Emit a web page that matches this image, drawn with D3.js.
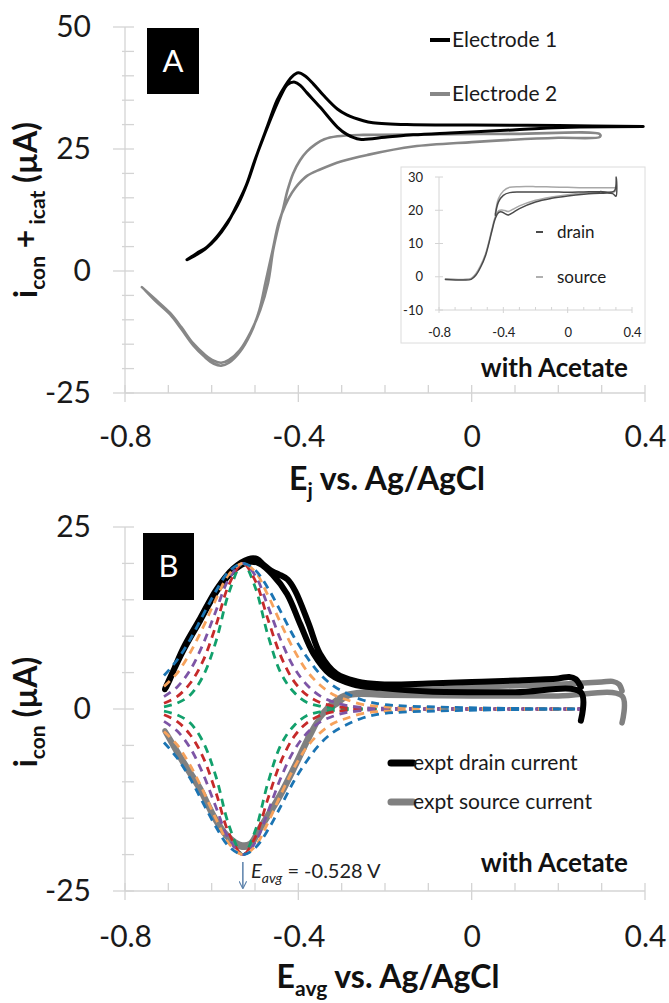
<!DOCTYPE html>
<html>
<head>
<meta charset="utf-8">
<script src="https://cdn.jsdelivr.net/npm/d3@7"></script>
<style>
body { margin: 0; background: #fff; }
svg { display: block; }
</style>
</head>
<body>
<div id="chart"></div>
<script>
// ---- panel A, electrode traces (E in V, i in uA)
const elec1E = [-0.657, -0.635, -0.611, -0.588, -0.565, -0.54, -0.518, -0.495, -0.47, -0.449, -0.43, -0.415, -0.40, -0.385, -0.365, -0.342, -0.31, -0.288, -0.25, -0.228, -0.15, 0.0, 0.2, 0.396,
    0.396, 0.25, 0.174, 0.095, -0.05, -0.135, -0.2, -0.258, -0.288, -0.31, -0.35, -0.38, -0.395, -0.408, -0.425, -0.44, -0.46, -0.48, -0.50, -0.52, -0.545, -0.565, -0.59, -0.615, -0.64, -0.655]
const elec1I = [2.3, 3.6, 4.9, 7.0, 9.8, 13.5, 18.0, 24.0, 30.0, 35.0, 38.0, 39.8, 40.6, 40.0, 38.3, 36.0, 33.2, 32.0, 30.8, 30.4, 30.0, 29.9, 29.8, 29.6,
    29.6, 29.5, 29.3, 28.9, 28.3, 27.9, 27.4, 27.0, 28.0, 29.5, 33.6, 36.5, 38.0, 38.7, 38.2, 36.0, 32.0, 27.5, 22.8, 17.6, 12.9, 9.6, 6.6, 4.5, 3.1, 2.4]
const elec2E = [-0.761, -0.73, -0.696, -0.67, -0.643, -0.615, -0.595, -0.578, -0.56, -0.535, -0.51, -0.488, -0.47, -0.458, -0.445, -0.435, -0.425, -0.412, -0.396, -0.38, -0.36, -0.34, -0.31, -0.25, -0.1, 0.1, 0.296,
    0.296, 0.2, 0.095, 0.0, -0.135, -0.24, -0.3, -0.35, -0.38, -0.40, -0.415, -0.43, -0.445, -0.46, -0.475, -0.49, -0.51, -0.535, -0.56, -0.578, -0.595, -0.615, -0.643, -0.67, -0.696, -0.73, -0.755]
const elec2I = [-3.3, -5.8, -8.6, -11.5, -14.8, -17.2, -18.4, -18.8, -18.2, -16.2, -12.5, -8.0, -2.5, 4.3, 9.5, 12.8, 16.5, 20.0, 22.7, 24.5, 26.0, 27.0, 27.6, 27.9, 28.0, 28.1, 28.0,
    27.5, 27.3, 26.9, 26.4, 25.5, 23.8, 22.5, 20.8, 19.5, 17.8, 16.0, 13.5, 10.0, 4.0, -2.0, -8.0, -12.8, -16.6, -18.8, -19.4, -19.0, -17.7, -15.2, -11.9, -8.9, -6.1, -3.8]

// ---- inset of panel A
const insetDrainE = [-0.76, -0.65, -0.6, -0.57, -0.54, -0.51, -0.49, -0.47, -0.45, -0.43, -0.41, -0.39, -0.37, -0.34, -0.3, -0.2, -0.1, 0.0, 0.1, 0.2, 0.28, 0.3, 0.302,
    0.29, 0.2, 0.1, 0.0, -0.1, -0.2, -0.3, -0.36, -0.4, -0.43, -0.45]
const insetDrainI = [-0.8, -1.0, -0.8, 0.5, 3.0, 6.5, 10.0, 14.0, 17.5, 19.3, 19.5, 19.0, 18.6, 19.3, 20.5, 22.5, 23.6, 24.3, 24.8, 25.1, 25.0, 24.2, 30.0,
    25.8, 25.6, 25.5, 25.4, 25.5, 25.5, 25.5, 25.3, 24.5, 22.5, 18.5]
const insetSourceE = [-0.76, -0.65, -0.6, -0.57, -0.54, -0.51, -0.49, -0.47, -0.45, -0.43, -0.41, -0.39, -0.37, -0.34, -0.3, -0.2, -0.1, 0.0, 0.1, 0.2, 0.29, 0.3,
    0.29, 0.2, 0.1, 0.0, -0.1, -0.2, -0.3, -0.36, -0.4, -0.43, -0.45]
const insetSourceI = [-0.6, -0.8, -0.5, 1.0, 3.5, 7.0, 10.5, 14.5, 18.0, 19.8, 20.1, 19.9, 19.6, 20.3, 21.3, 23.0, 24.0, 24.7, 25.2, 25.5, 25.5, 26.8,
    26.8, 26.8, 26.8, 26.9, 27.0, 27.1, 27.1, 26.9, 25.8, 23.5, 19.0]

// ---- panel B, experimental currents
const drainE = [0.252, 0.252, 0.1, -0.1, -0.211, -0.274, -0.327, -0.365, -0.396, -0.426, -0.46, -0.49, -0.515, -0.55, -0.588, -0.627, -0.666, -0.708,
    -0.70, -0.666, -0.627, -0.588, -0.55, -0.515, -0.495, -0.48, -0.46, -0.445, -0.425, -0.407, -0.376, -0.35, -0.311, -0.265, -0.211, -0.1, 0.0, 0.1, 0.2, 0.225, 0.24, 0.252]
const drainI = [-1.6, 2.3, 2.3, 2.4, 2.9, 3.4, 4.8, 7.6, 11.7, 15.8, 18.5, 20.0, 20.2, 19.0, 16.2, 12.1, 8.0, 2.7,
    3.6, 8.3, 12.4, 16.5, 19.3, 20.6, 20.6, 19.8, 18.9, 18.5, 17.8, 16.2, 11.7, 7.6, 4.8, 3.8, 3.4, 3.5, 3.7, 3.9, 4.2, 4.4, 4.1, 3.0]
const sourceE = [0.347, 0.347, 0.2, 0.0, -0.2, -0.28, -0.311, -0.343, -0.373, -0.403, -0.442, -0.489, -0.512, -0.535, -0.566, -0.597, -0.627, -0.666, -0.708,
    -0.666, -0.627, -0.597, -0.566, -0.535, -0.512, -0.489, -0.442, -0.403, -0.373, -0.343, -0.311, -0.288, -0.211, -0.1, 0.0, 0.1, 0.2, 0.3, 0.325, 0.34, 0.347]
const sourceI = [-1.9, 1.8, 1.8, 1.8, 1.9, 1.9, 0.7, -0.7, -3.4, -7.1, -11.7, -16.3, -18.5, -18.6, -17.2, -14.4, -10.8, -7.1, -3.0,
    -7.4, -11.1, -14.7, -17.5, -18.9, -18.8, -16.6, -12.0, -7.4, -3.7, -0.5, 1.3, 2.0, 2.5, 2.7, 3.0, 3.2, 3.4, 3.7, 3.8, 3.4, 2.5]

// ---- panel B, simulated curves (magnitude; drawn as +/- branches)
const simE = [-0.71, -0.68, -0.65, -0.62, -0.59, -0.56, -0.528, -0.50, -0.47, -0.44, -0.41, -0.38, -0.35, -0.32, -0.29, -0.25, -0.20, 0.25]
const simGreen = [0.3, 0.8, 1.9, 4.5, 9.3, 16.0, 20, 16.8, 10.1, 4.9, 2.3, 0.9, 0.4, 0.2, 0.1, 0, 0, 0]
const simRed = [0.8, 1.7, 3.5, 6.6, 11.5, 17.1, 20, 17.7, 12.3, 7.2, 3.8, 1.9, 0.9, 0.4, 0.2, 0.1, 0, 0]
const simPurple = [1.7, 3.0, 5.3, 8.9, 13.5, 17.9, 20, 18.4, 14.1, 9.4, 5.7, 3.3, 1.8, 1.0, 0.5, 0.2, 0.1, 0]
const simOrange = [3.1, 4.9, 7.7, 11.2, 15.1, 18.5, 20, 18.9, 15.6, 11.7, 8.1, 5.2, 3.3, 2.0, 1.3, 0.6, 0.3, 0]
const simBlue = [4.6, 6.7, 9.5, 12.9, 16.2, 18.9, 20, 19.1, 16.6, 13.3, 9.9, 7.1, 4.8, 3.2, 2.2, 1.2, 0.6, 0]

// ---- ticks
const xTickVals = [-0.8, -0.4, 0, 0.4]
const yTicksA = [50, 25, 0, -25]
const yTicksB = [25, 0, -25]
const insetXTicks = [-0.8, -0.4, 0, 0.4]
const insetYTicks = [30, 20, 10, 0, -10]

const font = 'Lato, "Open Sans", sans-serif'
const axisColor = '#d4d4d4'

var svg = d3.select('#chart').append('svg')
    .attr('width', 669).attr('height', 1003)
    .style('font-family', font)

var curve = d3.curveCatmullRom.alpha(0.5)

function drawTrace(g, xs, ys, x, y, color, width, dash) {
    var line = d3.line().curve(curve).x(d => x(d[0])).y(d => y(d[1]))
    var p = g.append('path')
        .attr('d', line(d3.zip(xs, ys)))
        .attr('fill', 'none')
        .attr('stroke', color)
        .attr('stroke-width', width)
        .attr('stroke-linejoin', 'round')
        .attr('stroke-linecap', dash ? 'butt' : 'round')
    if (dash) p.attr('stroke-dasharray', dash)
    return p
}

function drawFrame(x, y, yTicks, xPad, yPad) {
    var x0 = x.range()[0], x1 = x.range()[1]
    var yb = y(y.domain()[0]), yt = y(y.domain()[1])
    var ax = svg.append('g').attr('stroke', axisColor).attr('stroke-width', 1.3)
    ax.append('line').attr('x1', x0).attr('x2', x0).attr('y1', yt).attr('y2', yb)
    ax.append('line').attr('x1', x0).attr('x2', x1).attr('y1', yb).attr('y2', yb)
    d3.range(y.domain()[0], y.domain()[1] + 1, 5).forEach(v => {
        var major = yTicks.indexOf(v) >= 0
        ax.append('line').attr('x1', major ? x0 - 12 : x0 - 3).attr('x2', x0 + 9)
            .attr('y1', y(v)).attr('y2', y(v))
    })
    d3.range(0, 13).forEach(k => {
        var v = -0.8 + k * 0.1
        var major = k % 4 == 0
        ax.append('line').attr('x1', x(v)).attr('x2', x(v))
            .attr('y1', yb - 8).attr('y2', major ? yb + 9 : yb)
    })

    var la = svg.append('g').attr('transform', 'translate(' + x0 + ',0)')
        .call(d3.axisLeft(y).tickValues(yTicks).tickSize(0).tickPadding(xPad).tickFormat(String))
    var lb = svg.append('g').attr('transform', 'translate(0,' + yb + ')')
        .call(d3.axisBottom(x).tickValues(xTickVals).tickSize(0).tickPadding(yPad).tickFormat(String))
    ;[la, lb].forEach(g => {
        g.select('.domain').remove()
        g.attr('font-family', font).attr('font-size', 30)
        g.selectAll('text').attr('fill', '#1a1a1a')
    })
}

function panelBox(x, y, w, h, label, base) {
    svg.append('rect').attr('x', x).attr('y', y).attr('width', w).attr('height', h).attr('fill', '#000')
    svg.append('text').attr('x', x + w / 2).attr('y', base).attr('text-anchor', 'middle')
        .attr('fill', '#fff').attr('font-size', 31).text(label)
}

// ================= Panel A =================
var xA = d3.scaleLinear().domain([-0.8, 0.4]).range([125, 645])
var yA = d3.scaleLinear().domain([-25, 50]).range([393, 27])
drawFrame(xA, yA, yTicksA, 34, 33)
panelBox(147, 28, 52, 66, 'A', 72)

var gA = svg.append('g')
drawTrace(gA, elec2E, elec2I, xA, yA, '#878787', 2.6)
drawTrace(gA, elec1E, elec1I, xA, yA, '#000', 3)

// legend A
var legA = [['Electrode 1', '#000', 40], ['Electrode 2', '#878787', 94]]
legA.forEach(d => {
    svg.append('line').attr('x1', 430).attr('x2', 450).attr('y1', d[2]).attr('y2', d[2])
        .attr('stroke', d[1]).attr('stroke-width', 4)
    svg.append('text').attr('x', 452).attr('y', d[2]).attr('dy', '0.35em')
        .attr('font-size', 21).attr('fill', '#1a1a1a').text(d[0])
})

// inset
svg.append('rect').attr('x', 401).attr('y', 167).attr('width', 244).attr('height', 176)
    .attr('fill', '#fff').attr('stroke', '#dcdcdc').attr('stroke-width', 1)
var xIn = d3.scaleLinear().domain([-0.8, 0.4]).range([439, 632])
var yIn = d3.scaleLinear().domain([-10, 30]).range([310, 177])
var axIn = svg.append('g').attr('stroke', axisColor).attr('stroke-width', 1)
axIn.append('line').attr('x1', 439).attr('x2', 439).attr('y1', yIn(30)).attr('y2', yIn(-10))
axIn.append('line').attr('x1', 439).attr('x2', 632).attr('y1', yIn(-10)).attr('y2', yIn(-10))
insetYTicks.forEach(v => axIn.append('line').attr('x1', 435).attr('x2', 443).attr('y1', yIn(v)).attr('y2', yIn(v)))
d3.range(0, 13).forEach(k => {
    var v = -0.8 + k * 0.1
    axIn.append('line').attr('x1', xIn(v)).attr('x2', xIn(v)).attr('y1', yIn(-10) - 3).attr('y2', yIn(-10) + (k % 4 == 0 ? 3 : 0))
})
var inL = svg.append('g').attr('transform', 'translate(439,0)')
    .call(d3.axisLeft(yIn).tickValues(insetYTicks).tickSize(0).tickPadding(16).tickFormat(String))
var inB = svg.append('g').attr('transform', 'translate(0,310)')
    .call(d3.axisBottom(xIn).tickValues(insetXTicks).tickSize(0).tickPadding(18).tickFormat(String))
;[inL, inB].forEach(g => {
    g.select('.domain').remove()
    g.attr('font-family', font).attr('font-size', 13)
    g.selectAll('text').attr('fill', '#222')
})
var gIn = svg.append('g')
drawTrace(gIn, insetSourceE, insetSourceI, xIn, yIn, '#a8a8a8', 1.5)
drawTrace(gIn, insetDrainE, insetDrainI, xIn, yIn, '#4a4a4a', 1.5)
var legIn = [['drain', '#4a4a4a', 232], ['source', '#b0b0b0', 277]]
legIn.forEach(d => {
    svg.append('line').attr('x1', 536).attr('x2', 543).attr('y1', d[2]).attr('y2', d[2])
        .attr('stroke', d[1]).attr('stroke-width', 2)
    svg.append('text').attr('x', 557).attr('y', d[2]).attr('dy', '0.35em')
        .attr('font-size', 17).attr('fill', '#1a1a1a').text(d[0])
})

svg.append('text').attr('x', 628).attr('y', 377).attr('text-anchor', 'end')
    .attr('font-size', 26).attr('font-weight', 'bold').attr('fill', '#111').text('with Acetate')

// axis titles A
var tyA = svg.append('text').attr('transform', 'translate(37,210) rotate(-90)')
    .attr('text-anchor', 'middle').attr('font-size', 32).attr('font-weight', 'bold').attr('fill', '#111')
tyA.append('tspan').text('i')
tyA.append('tspan').attr('font-size', 21).attr('dy', 8).text('con')
tyA.append('tspan').attr('dy', -8).text(' +')
tyA.append('tspan').attr('font-size', 21).attr('dy', 8).text(' icat')
tyA.append('tspan').attr('dy', -8).text(' (µA)')

var txA = svg.append('text').attr('x', 387).attr('y', 490).attr('text-anchor', 'middle')
    .attr('font-size', 32).attr('font-weight', 'bold').attr('fill', '#111')
txA.append('tspan').text('E')
txA.append('tspan').attr('font-size', 21).attr('dy', 8).text('j')
txA.append('tspan').attr('dy', -8).text(' vs. Ag/AgCl')

// ================= Panel B =================
var xB = d3.scaleLinear().domain([-0.8, 0.4]).range([125, 645])
var yB = d3.scaleLinear().domain([-25, 25]).range([891, 527])
drawFrame(xB, yB, yTicksB, 34, 35)
panelBox(143, 533, 51, 67, 'B', 577)

var gB = svg.append('g')
drawTrace(gB, sourceE, sourceI, xB, yB, '#808080', 5.5)
drawTrace(gB, drainE, drainI, xB, yB, '#000', 6)

var sims = [[simGreen, '#12a06c'], [simRed, '#c62a2a'], [simPurple, '#7d55a6'], [simOrange, '#f6a25c'], [simBlue, '#1b74b3']]
sims.forEach(s => {
    drawTrace(gB, simE, s[0], xB, yB, s[1], 2.8, '8,6')
    drawTrace(gB, simE, s[0].map(v => -v), xB, yB, s[1], 2.8, '8,6')
})

// legend B
var legB = [['expt drain current', '#000', 763], ['expt source current', '#808080', 802]]
legB.forEach(d => {
    svg.append('line').attr('x1', 391).attr('x2', 413).attr('y1', d[2]).attr('y2', d[2])
        .attr('stroke', d[1]).attr('stroke-width', 7).attr('stroke-linecap', 'round')
    svg.append('text').attr('x', 413).attr('y', d[2]).attr('dy', '0.35em')
        .attr('font-size', 21).attr('fill', '#1a1a1a').text(d[0])
})

// E_avg marker
svg.append('defs').append('marker').attr('id', 'arr')
    .attr('viewBox', '0 0 10 10').attr('refX', 9).attr('refY', 5)
    .attr('markerWidth', 5).attr('markerHeight', 5).attr('orient', 'auto')
    .append('path').attr('d', 'M0,0 L10,5 L0,10').attr('fill', 'none').attr('stroke', '#5a80aa').attr('stroke-width', 1.5)
svg.append('line').attr('x1', xB(-0.528)).attr('x2', xB(-0.528)).attr('y1', 862).attr('y2', 888)
    .attr('stroke', '#5a80aa').attr('stroke-width', 1.5).attr('marker-end', 'url(#arr)')
var eav = svg.append('text').attr('x', 251).attr('y', 878).attr('font-size', 20).attr('fill', '#222')
eav.append('tspan').attr('font-style', 'italic').text('E')
eav.append('tspan').attr('font-style', 'italic').attr('font-size', 14).attr('dy', 5).text('avg')
eav.append('tspan').attr('dy', -5).text(' = -0.528 V')

svg.append('text').attr('x', 628).attr('y', 872).attr('text-anchor', 'end')
    .attr('font-size', 26).attr('font-weight', 'bold').attr('fill', '#111').text('with Acetate')

var tyB = svg.append('text').attr('transform', 'translate(37,712) rotate(-90)')
    .attr('text-anchor', 'middle').attr('font-size', 32).attr('font-weight', 'bold').attr('fill', '#111')
tyB.append('tspan').text('i')
tyB.append('tspan').attr('font-size', 21).attr('dy', 8).text('con')
tyB.append('tspan').attr('dy', -8).text(' (µA)')

var txB = svg.append('text').attr('x', 388).attr('y', 988).attr('text-anchor', 'middle')
    .attr('font-size', 32).attr('font-weight', 'bold').attr('fill', '#111')
txB.append('tspan').text('E')
txB.append('tspan').attr('font-size', 21).attr('dy', 8).text('avg')
txB.append('tspan').attr('dy', -8).text(' vs. Ag/AgCl')
</script>
</body>
</html>
